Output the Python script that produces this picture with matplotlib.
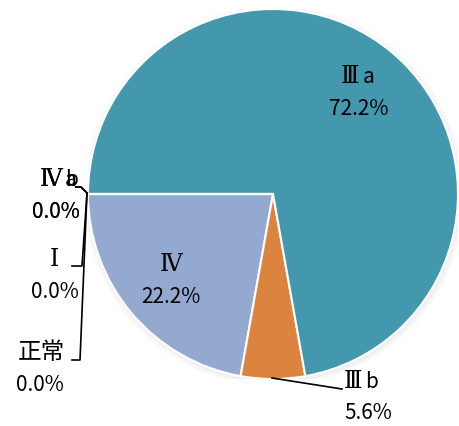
import matplotlib.pyplot as plt
import numpy as np
from matplotlib.patches import Circle

plt.rcParams['font.family'] = ['Noto Sans CJK JP', 'DejaVu Sans']

# 病期分布
categories = ['Ⅳ', 'Ⅲb', 'Ⅲa', 'Ⅳb', 'Ⅳa', 'Ⅰ', '正常']
values = [22.2, 5.6, 72.2, 0.0, 0.0, 0.0, 0.0]
colors = ['#94A9D0', '#DC843F', '#4398AE', '#4F81BD', '#4F81BD', '#4F81BD', '#4F81BD']

W, H = 459, 427
cx, cy, R = 273, 195, 185

fig = plt.figure(figsize=(W / 100, H / 100), dpi=100)
ax = fig.add_axes([(cx - R) / W, (H - cy - R) / H, 2 * R / W, 2 * R / H])


def px(x, y):
    # ピクセル座標 -> 軸データ座標
    return (x - cx) / R, (cy - y) / R


ROMAN = 'ⅠⅡⅢⅣⅤ'
fs = 15


def draw_name(x, y, name):
    # ローマ数字は明朝風（セリフ体）、添字はゴシック
    if name[0] in ROMAN:
        num, rest = name[0], name[1:]
        if rest:
            ax.text(*px(x + 1, y), num, ha='right', va='center', fontsize=fs + 2,
                    family=['DejaVu Serif'], fontweight='medium', clip_on=False, zorder=5)
            ax.text(*px(x + 4, y), rest, ha='left', va='center', fontsize=fs,
                    clip_on=False, zorder=5)
        else:
            ax.text(*px(x, y), num, ha='center', va='center', fontsize=fs + 2,
                    family=['DejaVu Serif'], fontweight='medium', clip_on=False, zorder=5)
    else:
        ax.text(*px(x, y), name, ha='center', va='center', fontsize=fs + 2,
                clip_on=False, zorder=5)


# うっすらとした影
for i, a in enumerate([0.035, 0.03, 0.025, 0.02]):
    ax.add_patch(Circle((0.006, -0.01), 1.0 + 0.008 * (i + 1), color='gray',
                        alpha=a, lw=0, zorder=0))

wedges, _ = ax.pie(values, colors=colors, startangle=180, counterclock=True,
                   radius=1.0, wedgeprops=dict(edgecolor='white', linewidth=1.5),
                   normalize=True)
for w in wedges:
    w.set_zorder(2)

ax.set_xlim(-1, 1)
ax.set_ylim(-1, 1)
ax.set_aspect('equal')
ax.axis('off')

total = sum(values)

# 扇形の内側に置くラベル
for i in [0, 2]:
    w = wedges[i]
    mid = np.deg2rad((w.theta1 + w.theta2) / 2)
    x, y = 0.72 * np.cos(mid), 0.72 * np.sin(mid)
    xp, yp = cx + x * R, cy - y * R
    draw_name(xp, yp - 16, categories[i])
    ax.text(*px(xp, yp + 16), f'{values[i] / total * 100:.1f}%', ha='center',
            va='center', fontsize=fs, zorder=5)

# 外側のラベル（引き出し線付き）
outside = {
    'Ⅲb': ((361, 382), (368, 413), [(272, 379), (342, 390)]),
    'Ⅳa': ((61, 180), (56, 212), [(87, 194), (81, 188), (76, 188)]),
    'Ⅳb': ((61, 180), (56, 212), [(87, 194), (81, 188), (76, 188)]),
    'Ⅰ': ((54, 259), (55, 292), [(87, 194), (82, 267), (72, 267)]),
    '正常': ((41, 353), (40, 385), [(87, 194), (80, 361), (72, 361)]),
}
for name, (npos, ppos, line) in outside.items():
    i = categories.index(name)
    pts = np.array([px(*p) for p in line])
    ax.plot(pts[:, 0], pts[:, 1], color='black', lw=1.2, clip_on=False, zorder=4)
    draw_name(*npos, name)
    ax.text(*px(*ppos), f'{values[i] / total * 100:.1f}%', ha='center', va='center',
            fontsize=fs, clip_on=False, zorder=5)

fig.savefig('out.png', dpi=100)
